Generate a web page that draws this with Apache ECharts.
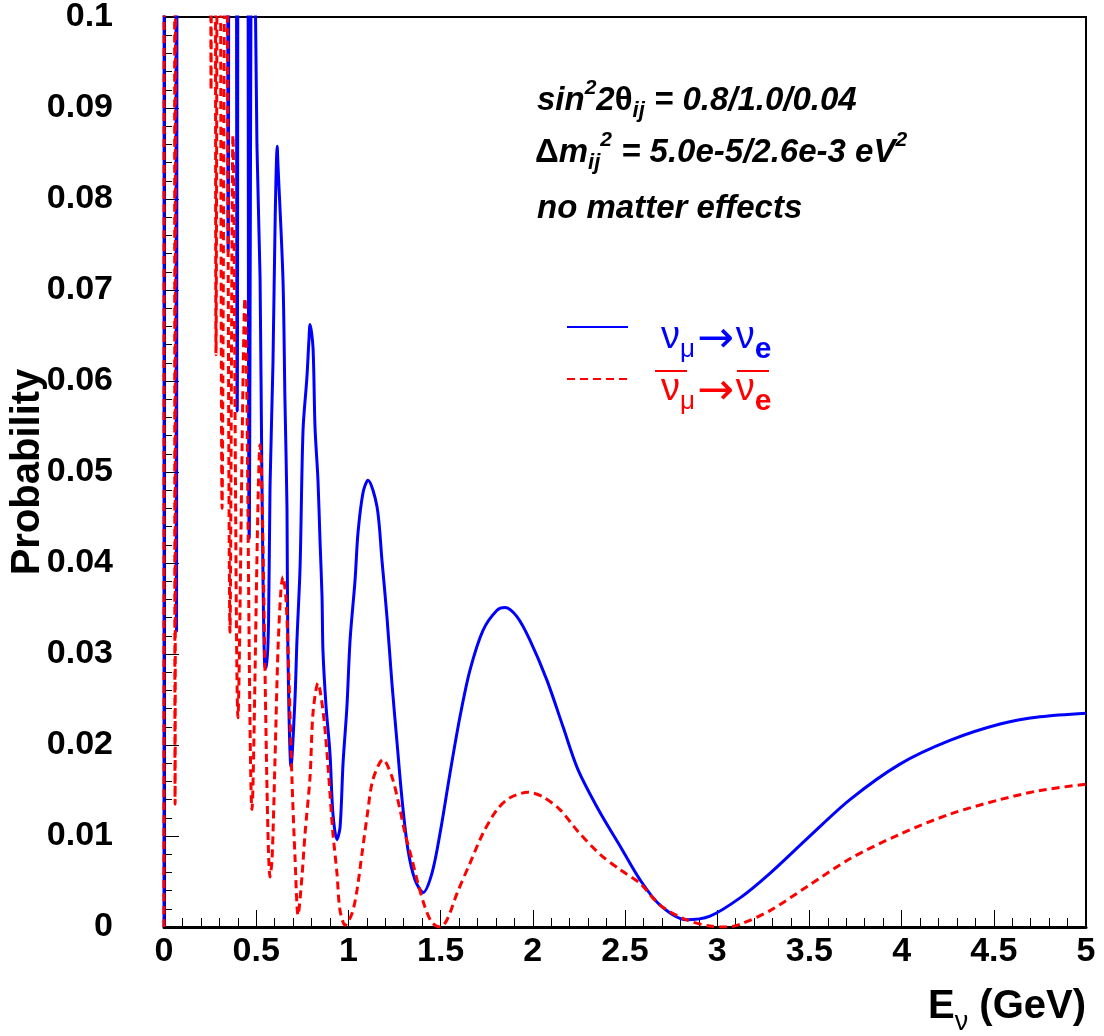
<!DOCTYPE html>
<html><head><meta charset="utf-8">
<script src="https://cdn.jsdelivr.net/npm/echarts@6/dist/echarts.min.js"></script>
<style>html,body{margin:0;padding:0;background:#fff}#c{width:1104px;height:1036px}</style>
</head><body><div id="c"></div>
<script>
// nu_mu -> nu_e (blue, solid): energy (GeV) and probability
const blueE = [0.000,0.004,0.056,0.068,0.078,0.336,0.348,0.362,0.383,0.397,0.412,0.443,0.462,0.480,0.504,0.521,0.531,0.548,0.556,0.567,0.575,0.591,0.603,0.614,0.618,0.645,0.656,0.667,0.672,0.689,0.710,0.721,0.738,0.754,0.775,0.786,0.792,0.808,0.819,0.835,0.846,0.857,0.862,0.879,0.900,0.916,0.938,0.955,0.971,0.992,1.009,1.036,1.052,1.079,1.106,1.155,1.182,1.209,1.236,1.264,1.291,1.323,1.361,1.405,1.453,1.497,1.551,1.605,1.659,1.730,1.806,1.849,1.914,1.985,2.077,2.164,2.245,2.364,2.473,2.581,2.690,2.831,2.961,3.124,3.286,3.492,3.720,3.991,4.262,4.534,4.751,5.000];
const blueP = [0.000,0.200,0.200,0.0325,0.200,0.200,0.0743,0.200,0.200,0.0567,0.200,0.200,0.0427,0.130,0.0860,0.0713,0.0490,0.0285,0.0285,0.0335,0.0484,0.0620,0.0780,0.0858,0.0838,0.0713,0.0578,0.0460,0.0303,0.0176,0.0249,0.0315,0.0396,0.0546,0.0604,0.0645,0.0662,0.0637,0.0549,0.0491,0.0425,0.0363,0.0304,0.0242,0.0191,0.0125,0.0096,0.0110,0.0180,0.0242,0.0315,0.0381,0.0433,0.0477,0.0491,0.0462,0.0403,0.0341,0.0268,0.0202,0.0140,0.0085,0.0052,0.0038,0.0059,0.0103,0.0169,0.0231,0.0282,0.0326,0.0348,0.0351,0.0341,0.0315,0.0271,0.0220,0.0173,0.0126,0.0089,0.0052,0.0024,0.0008,0.0012,0.0032,0.0059,0.0098,0.0140,0.0179,0.0205,0.0223,0.0231,0.0235];
// anti-nu_mu -> anti-nu_e (red, dashed)
const redE = [0.000,0.004,0.050,0.060,0.070,0.248,0.255,0.264,0.274,0.282,0.298,0.315,0.336,0.358,0.374,0.401,0.439,0.477,0.521,0.575,0.586,0.602,0.618,0.634,0.645,0.662,0.678,0.694,0.711,0.727,0.748,0.765,0.792,0.808,0.835,0.862,0.884,0.900,0.916,0.938,0.954,0.982,1.020,1.047,1.074,1.101,1.133,1.188,1.236,1.280,1.307,1.345,1.377,1.415,1.453,1.497,1.535,1.589,1.659,1.730,1.806,1.876,1.974,2.055,2.147,2.245,2.364,2.473,2.581,2.690,2.831,2.961,3.050,3.124,3.286,3.492,3.720,3.991,4.262,4.534,4.751,5.000];
const redP = [0.000,0.200,0.200,0.0135,0.200,0.200,0.0920,0.200,0.200,0.0629,0.200,0.0460,0.130,0.0324,0.0870,0.0230,0.0691,0.0129,0.0530,0.0055,0.0074,0.0184,0.0304,0.0370,0.0385,0.0359,0.0271,0.0162,0.0074,0.0013,0.0055,0.0103,0.0165,0.0235,0.0268,0.0238,0.0191,0.0147,0.0103,0.0059,0.0019,0.0002,0.0015,0.0041,0.0081,0.0121,0.0162,0.0184,0.0165,0.0129,0.0103,0.0074,0.0048,0.0022,0.0005,0.0000,0.0008,0.0037,0.0070,0.0103,0.0129,0.0142,0.0148,0.0143,0.0129,0.0105,0.0080,0.0063,0.0048,0.0024,0.0008,0.0001,0.0000,0.0003,0.0018,0.0045,0.0075,0.0102,0.0124,0.0140,0.0150,0.0157];

const seriesNames = ['νμ→νe', 'anti-νμ→anti-νe'];
const FONT = '"Liberation Sans", Arial, Helvetica, sans-serif';
const zip = (a, b) => a.map((v, i) => [v, b[i]]);

const chart = echarts.init(document.getElementById('c'), null, {renderer: 'canvas'});

function legendRich(color) {
  return {
    n: {fontFamily: FONT, fontSize: 38, lineHeight: 40, verticalAlign: 'top', color: color, padding: [12, 0, 0, 0]},
    n0: {fontFamily: FONT, fontSize: 38, lineHeight: 40, verticalAlign: 'top', color: color, padding: [12, 0, 0, 28]},
    s: {fontFamily: FONT, fontSize: 26, lineHeight: 28, verticalAlign: 'top', color: color, padding: [30, 2, 0, 0]},
    a: {fontFamily: '"DejaVu Sans", sans-serif', fontSize: 44, lineHeight: 40, verticalAlign: 'top', color: color, padding: [12, 2, 0, 0]},
    e: {fontFamily: FONT, fontSize: 30, fontWeight: 'bold', lineHeight: 32, verticalAlign: 'top', color: color, padding: [28, 0, 0, 0]}
  };
}
const annRich = {
  m: {fontFamily: FONT, fontSize: 33, fontWeight: 'bold', fontStyle: 'italic', lineHeight: 36, verticalAlign: 'top', padding: [6, 0, 0, 0], color: '#000'},
  g: {fontFamily: FONT, fontSize: 33, fontWeight: 'bold', lineHeight: 36, verticalAlign: 'top', padding: [6, 0, 0, 0], color: '#000'},
  sup: {fontFamily: FONT, fontSize: 21, fontWeight: 'bold', fontStyle: 'italic', lineHeight: 22, verticalAlign: 'top', padding: [0, 0, 0, 0], color: '#000'},
  sub: {fontFamily: FONT, fontSize: 22, fontWeight: 'bold', fontStyle: 'italic', lineHeight: 24, verticalAlign: 'top', padding: [22, 0, 0, 0], color: '#000'}
};

const option = {
  animation: false,
  backgroundColor: '#fff',
  grid: {left: 164, right: 18, top: 17, bottom: 109, containLabel: false, outerBoundsMode: 'none',
    show: true, borderColor: '#000', borderWidth: 2, backgroundColor: 'transparent'},
  xAxis: {
    type: 'value', min: 0, max: 5, interval: 0.5,
    axisLine: {onZero: false, lineStyle: {color: '#000', width: 3}},
    axisTick: {inside: true, length: 17, lineStyle: {color: '#000', width: 1}},
    minorTick: {show: true, splitNumber: 5, length: 9, lineStyle: {color: '#000', width: 1}},
    splitLine: {show: false},
    axisLabel: {color: '#000', fontFamily: FONT, fontWeight: 'bold', fontSize: 34, margin: 8,
      formatter: v => String(+v.toFixed(1))},
    name: '{e|E}{s|ν}{g| (GeV)}', nameLocation: 'end', nameGap: 0, nameMoveOverlap: false,
    nameTextStyle: {align: 'right', verticalAlign: 'top', padding: [60, 0, 0, 0],
      rich: {
        e: {fontFamily: FONT, fontSize: 40, fontWeight: 'bold', lineHeight: 44, verticalAlign: 'top', color: '#000'},
        s: {fontFamily: FONT, fontSize: 27, lineHeight: 30, verticalAlign: 'top', padding: [22, 0, 0, 0], color: '#000'},
        g: {fontFamily: FONT, fontSize: 40, fontWeight: 'bold', lineHeight: 44, verticalAlign: 'top', color: '#000'}
      }}
  },
  yAxis: {
    type: 'value', min: 0, max: 0.1, interval: 0.01,
    axisLine: {onZero: false, lineStyle: {color: '#000', width: 3}},
    axisTick: {inside: true, length: 15, lineStyle: {color: '#000', width: 1}},
    minorTick: {show: true, splitNumber: 5, length: 8, lineStyle: {color: '#000', width: 1}},
    splitLine: {show: false},
    axisLabel: {color: '#000', fontFamily: FONT, fontWeight: 'bold', fontSize: 34, margin: 51,
      formatter: v => v === 0 ? '0' : String(+v.toFixed(2))},
    name: 'Probability', nameLocation: 'middle', nameGap: 116, nameMoveOverlap: false,
    nameTextStyle: {fontFamily: FONT, fontSize: 40, fontWeight: 'bold', color: '#000'}
  },
  legend: {
    orient: 'vertical', left: 566, top: 307, padding: 0,
    itemWidth: 61, itemHeight: 14, itemGap: -6,
    itemStyle: {color: 'transparent', borderColor: 'transparent', borderWidth: 0, opacity: 0},
    data: [
      {name: seriesNames[0], textStyle: {rich: legendRich('#0000ff')}},
      {name: seriesNames[1], textStyle: {rich: legendRich('#ff0000')}}
    ],
    formatter: () => '{n0|ν}{s|μ}{a|→}{n|ν}{e|e}'
  },
  series: [
    {type: 'line', name: seriesNames[0], data: zip(blueE, blueP), symbol: 'none', clip: true,
      smooth: 0.3,
      lineStyle: {color: '#0000ff', width: 3}, itemStyle: {color: '#0000ff'}},
    {type: 'line', name: seriesNames[1], data: zip(redE, redP), symbol: 'none', clip: true,
      smooth: 0.3,
      lineStyle: {color: '#ff0000', width: 3, type: [8, 5]}, itemStyle: {color: '#ff0000'}}
  ],
  graphic: [
    {type: 'text', left: 537, top: 78, style: {text: '{m|sin}{sup|2}{m|2}{g|θ}{sub|ij}{m| = 0.8/1.0/0.04}', rich: annRich}},
    {type: 'text', left: 535, top: 130, style: {text: '{g|Δ}{m|m}{sub|ij}{sup|2}{m| = 5.0e-5/2.6e-3 eV}{sup|2}', rich: annRich}},
    {type: 'text', left: 537, top: 192, style: {text: 'no matter effects', font: 'italic bold 33px ' + FONT, fill: '#000'}},
    {type: 'line', shape: {x1: 655, y1: 371, x2: 687, y2: 371}, style: {stroke: '#ff0000', lineWidth: 2}},
    {type: 'line', shape: {x1: 737, y1: 371, x2: 769, y2: 371}, style: {stroke: '#ff0000', lineWidth: 2}}
  ]
};
chart.setOption(option);
</script>
</body></html>
